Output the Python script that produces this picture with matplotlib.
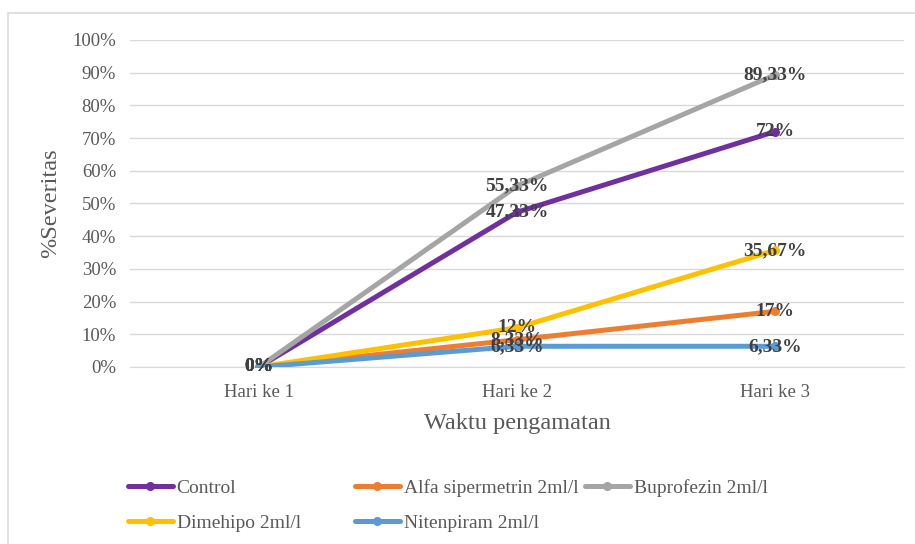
import matplotlib.pyplot as plt
import matplotlib as mpl
from matplotlib.patches import Rectangle

mpl.rcParams['font.family'] = ['Liberation Serif', 'DejaVu Serif']

# data
hari = ['Hari ke 1', 'Hari ke 2', 'Hari ke 3']
series = ['Control', 'Alfa sipermetrin 2ml/l', 'Buprofezin 2ml/l',
          'Dimehipo 2ml/l', 'Nitenpiram 2ml/l']
control = [0, 47.33, 72]
alfa = [0, 8.33, 17]
buprofezin = [0, 55.33, 89.33]
dimehipo = [0, 12, 35.67]
nitenpiram = [0, 6.33, 6.33]
label_text = {
    'Control': ['0%', '47,33%', '72%'],
    'Alfa sipermetrin 2ml/l': ['0%', '8,33%', '17%'],
    'Buprofezin 2ml/l': ['0%', '55,33%', '89,33%'],
    'Dimehipo 2ml/l': ['0%', '12%', '35,67%'],
    'Nitenpiram 2ml/l': ['0%', '6,33%', '6,33%'],
}
warna = ['#7030A0', '#ED7D31', '#A5A5A5', '#FFC000', '#5B9BD5']
nilai = [control, alfa, buprofezin, dimehipo, nitenpiram]

fig = plt.figure(figsize=(9.15, 5.44), dpi=100)
fig.patches.append(Rectangle((8/915, -0.1), 1.1, 0.976 + 0.1, transform=fig.transFigure,
                             fill=False, edgecolor='#D9D9D9', lw=1.2))
ax = fig.add_axes([0.142, 0.3254, 0.846, 0.6011])

x = list(range(len(hari)))
handles = {}
for nama, y, c in zip(series, nilai, warna):
    h, = ax.plot(x, y, color=c, lw=3.6, marker='o', ms=5.5, solid_capstyle='round',
                 label=nama, zorder=3)
    handles[nama] = h
for nama, y in zip(series, nilai):
    for xi, yi, t in zip(x, y, label_text[nama]):
        ax.text(xi, yi, t, ha='center', va='center', fontsize=14, fontweight='bold',
                color='#404040', zorder=5)

ax.set_xlim(-0.5, 2.5)
ax.set_ylim(0, 100)
ax.set_yticks(range(0, 101, 10))
ax.set_yticklabels([f'{v}%' for v in range(0, 101, 10)])
ax.set_xticks(x)
ax.set_xticklabels(hari)
ax.tick_params(length=0, labelsize=13.5, labelcolor='#595959')
ax.tick_params(axis='y', pad=10)
ax.tick_params(axis='x', pad=12)
ax.grid(True, axis='y', color='#D9D9D9', lw=1)
ax.set_axisbelow(True)
for s in ['top', 'right', 'left']:
    ax.spines[s].set_visible(False)
ax.spines['bottom'].set_color('#D9D9D9')
ax.set_ylabel('%Severitas', fontsize=17.5, color='#595959', labelpad=8)
ax.set_xlabel('Waktu pengamatan', fontsize=17.5, color='#595959', labelpad=9)

# legend, three columns like Excel
kolom = [['Control', 'Dimehipo 2ml/l'], ['Alfa sipermetrin 2ml/l', 'Nitenpiram 2ml/l'],
         ['Buprofezin 2ml/l']]
kiri = [128/915, 355/915, 585/915]
for nm, xl in zip(kolom, kiri):
    leg = fig.legend([handles[n] for n in nm], nm, loc='upper left',
                     bbox_to_anchor=(xl, 1 - 479/544), frameon=False, fontsize=14,
                     handlelength=2.3, handletextpad=0.2, labelspacing=0.9,
                     borderaxespad=0, borderpad=0, labelcolor='#595959')

fig.savefig('out.png', dpi=100)
